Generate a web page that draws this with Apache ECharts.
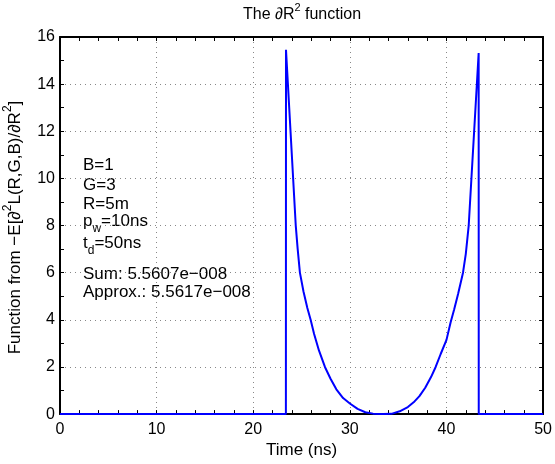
<!DOCTYPE html>
<html>
<head>
<meta charset="utf-8">
<script src="https://cdn.jsdelivr.net/npm/echarts@6/dist/echarts.min.js"></script>
<style>
html,body{margin:0;padding:0;background:#fff;}
#chart{width:555px;height:464px;}
</style>
</head>
<body>
<div id="chart"></div>
<script>
// Data
const timeNs = [0, 23.38, 23.39, 24.4, 24.6, 24.83, 25.2, 25.6, 25.94, 26.3, 26.8, 27.42, 28.0, 28.6, 29.3, 30.0, 30.8, 31.6, 32.4, 33.44, 34.3, 35.16, 36.0, 36.6, 37.2, 37.8, 38.4, 38.88, 39.4, 40.0, 40.43, 40.8, 41.2, 41.71, 42.0, 42.3, 43.33, 43.34, 50];
const fnValues = [0, 0, 15.46, 8.0, 7.0, 6.0, 5.2, 4.5, 4.0, 3.4, 2.7, 2.0, 1.5, 1.05, 0.68, 0.45, 0.22, 0.08, 0.02, 0, 0.01, 0.12, 0.3, 0.5, 0.76, 1.12, 1.57, 2.0, 2.55, 3.15, 3.9, 4.45, 5.1, 6.0, 6.8, 8.0, 15.32, 0, 0];
const xTicks = [0, 10, 20, 30, 40, 50];
const yTicks = [0, 2, 4, 6, 8, 10, 12, 14, 16];
const titleParts = ['The \u2202R', '2', ' function'];
const yLabelParts = ['Function from \u2212E[\u2202', '2', 'L(R,G,B)/\u2202R', '2', ']'];
const xLabel = 'Time (ns)';
const infoLines = [
  ['B=1'], ['G=3'], ['R=5m'], ['p', 'w', '=10ns'], ['t', 'd', '=50ns'],
  ['Sum: 5.5607e\u2212008'], ['Approx.: 5.5617e\u2212008']
];

const FONT = '"Liberation Sans", Arial, Helvetica, sans-serif';
const chart = echarts.init(document.getElementById('chart'));

const G = {left: 60, top: 37, width: 484, height: 381};

function makeRich(fs, subFs) {
  return {
    a: {fontSize: fs, fontFamily: FONT, color: '#000', lineHeight: fs + 10},
    sup: {fontSize: subFs, fontFamily: FONT, color: '#000', lineHeight: subFs, verticalAlign: 'top'},
    sub: {fontSize: subFs, fontFamily: FONT, color: '#000', lineHeight: 6, verticalAlign: 'bottom'}
  };
}
function supText(parts) {
  return parts.map((p, i) => (i % 2 === 1 ? '{sup|' + p + '}' : '{a|' + p + '}')).join('');
}
function subText(parts) {
  return parts.map((p, i) => (i % 2 === 1 ? '{sub|' + p + '}' : '{a|' + p + '}')).join('');
}

const infoY = [165, 185, 204.5, 221.5, 243, 274, 292.5];
const graphics = [];
graphics.push({
  type: 'text', x: G.left + G.width / 2, y: 15,
  style: {text: supText(titleParts), rich: makeRich(16, 11), align: 'center', verticalAlign: 'middle'}
});
graphics.push({
  type: 'text', x: 15, y: G.top + G.height / 2, rotation: Math.PI / 2,
  style: {text: supText(yLabelParts), rich: makeRich(17, 12), align: 'center', verticalAlign: 'middle'}
});
infoLines.forEach((ln, i) => {
  graphics.push({
    type: 'text', x: 83, y: infoY[i],
    style: {text: subText(ln), rich: makeRich(17, 12), align: 'left', verticalAlign: 'middle'}
  });
});

const axisCommon = {
  type: 'value',
  axisLine: {show: true, onZero: false, lineStyle: {color: '#000', width: 2}},
  axisTick: {show: true, inside: true, length: 4, lineStyle: {color: '#000', width: 1}},
  minorTick: {show: true, length: 4, lineStyle: {color: '#000', width: 1}}
};

const option = {
  backgroundColor: '#fff',
  animation: false,
  grid: {left: G.left, top: G.top, width: G.width, height: G.height, containLabel: false},
  xAxis: [
    Object.assign({}, axisCommon, {
      position: 'bottom', min: xTicks[0], max: xTicks[xTicks.length - 1], interval: 10,
      minorTick: Object.assign({}, axisCommon.minorTick, {splitNumber: 5}),
      axisLabel: {color: '#000', fontSize: 16, fontFamily: FONT, margin: 7},
      splitLine: {show: true, lineStyle: {color: '#888', width: 1, type: [1, 4]}},
      name: xLabel, nameLocation: 'middle', nameGap: 24,
      nameTextStyle: {color: '#000', fontSize: 17, fontFamily: FONT}
    }),
    Object.assign({}, axisCommon, {
      position: 'top', min: xTicks[0], max: xTicks[xTicks.length - 1], interval: 10,
      minorTick: Object.assign({}, axisCommon.minorTick, {splitNumber: 5}),
      axisLabel: {show: false}, splitLine: {show: false}
    })
  ],
  yAxis: [
    Object.assign({}, axisCommon, {
      position: 'left', min: yTicks[0], max: yTicks[yTicks.length - 1], interval: 2,
      minorTick: Object.assign({}, axisCommon.minorTick, {splitNumber: 2}),
      axisLabel: {color: '#000', fontSize: 16, fontFamily: FONT, margin: 5},
      splitLine: {show: true, lineStyle: {color: '#888', width: 1, type: [1, 4]}}
    }),
    Object.assign({}, axisCommon, {
      position: 'right', min: yTicks[0], max: yTicks[yTicks.length - 1], interval: 2,
      minorTick: Object.assign({}, axisCommon.minorTick, {splitNumber: 2}),
      axisLabel: {show: false}, splitLine: {show: false}
    })
  ],
  series: [{
    type: 'line',
    xAxisIndex: 0, yAxisIndex: 0,
    data: timeNs.map((t, i) => [t, fnValues[i]]),
    showSymbol: false, symbol: 'none', smooth: false,
    lineStyle: {color: '#0000ff', width: 2},
    itemStyle: {color: '#0000ff'},
    z: 3
  }],
  graphic: graphics
};
chart.setOption(option);
</script>
</body>
</html>
